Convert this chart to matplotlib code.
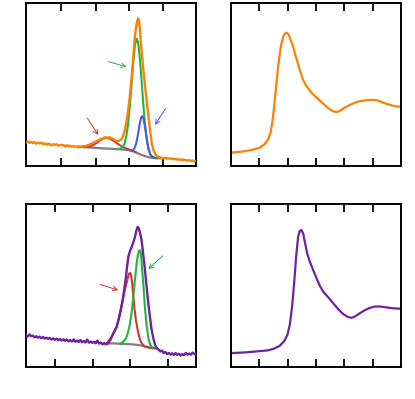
import matplotlib
matplotlib.use("Agg")
import matplotlib.pyplot as plt

# ---------------- data: top-left (orange spectrum with fit components) ----------------
tl_data_x = [0, 1, 2, 3, 4, 5, 6, 7, 8, 9, 10, 11, 12, 13, 14, 15, 16, 17, 18, 19, 20, 21, 22, 23, 24, 25, 26, 27,
             28, 29, 30, 31, 32, 33, 34, 35, 36, 37, 38, 39, 40, 41, 42, 43, 44, 45, 46, 47, 48, 49, 50, 51, 52, 53,
             54, 55, 56, 57, 58, 59, 60, 61, 62, 63, 64, 64.5, 65, 65.5, 66, 66.5, 67, 67.5, 68, 69, 70, 71, 72, 73,
             74, 75, 76, 77, 78, 79, 80, 81, 82, 83, 84, 85, 86, 87, 88, 89, 90, 91, 92, 93, 94, 95, 96, 97, 98, 99, 100]
tl_data_y = [14.4, 15.0, 14.2, 14.9, 14.1, 14.6, 13.7, 14.3, 13.8, 14.4, 13.5, 13.9, 13.1, 13.7, 13.4, 12.7, 13.4,
             13.0, 13.3, 12.4, 13.0, 12.7, 12.9, 12.1, 12.7, 12.2, 12.5, 11.7, 12.3, 11.8, 12.0, 11.4, 11.9, 12.0,
             12.3, 12.1, 12.7, 12.9, 13.6, 13.8, 14.6, 14.9, 15.6, 15.9, 16.7, 16.8, 17.5, 17.6, 17.3, 17.7, 17.0,
             16.8, 16.0, 15.6, 15.2, 15.6, 16.4, 18.0, 21.5, 26.5, 33.3, 42.0, 52.5, 65.2, 78.5, 83.0, 86.8, 89.3,
             90.5, 89.3, 84.0, 77.0, 70.7, 59.4, 49.2, 40.0, 30.8, 21.9, 13.8, 9.6, 7.4, 6.1, 5.5, 5.2, 5.0, 4.6,
             5.1, 4.5, 4.8, 4.2, 4.7, 4.0, 4.4, 3.9, 4.2, 3.6, 4.1, 3.5, 3.8, 3.3, 3.6, 3.1, 3.4, 2.9, 3.2]

tl_base_x = [31, 32, 35, 38, 41, 44, 47, 50, 53, 56, 58, 60, 62, 64, 66, 68, 70, 72, 74, 77, 81]
tl_base_y = [11.8, 11.7, 11.5, 11.3, 11.1, 10.9, 10.7, 10.6, 10.4, 10.2, 10.0, 9.8, 9.3, 8.6, 7.7, 6.8, 6.0, 5.4,
             5.0, 4.8, 4.7]

tl_red_x = [31, 33, 35, 37, 39, 41, 43, 45, 47, 49, 51, 53, 55, 57, 59, 61, 63, 64.5]
tl_red_y = [11.8, 11.7, 11.7, 12.0, 12.6, 13.7, 15.2, 16.6, 17.3, 16.9, 15.7, 14.3, 12.9, 11.7, 10.8, 10.0, 9.2, 8.5]

tl_green_x = [53, 55, 56, 57, 58, 59, 60, 61, 62, 63, 64, 64.6, 65.2, 65.8, 66, 67, 68, 69, 70, 71, 72, 73, 74,
              75, 77]
tl_green_y = [10.4, 10.5, 10.8, 11.8, 13.9, 18.2, 25.4, 35.9, 48.9, 62.5, 73.2, 76.9, 78.1, 76.4, 75.3, 65.8, 52.1,
              37.8, 25.5, 16.5, 10.7, 7.5, 6.0, 5.3, 4.8]

tl_blue_x = [62, 63, 64, 65, 66, 67, 67.7, 68.4, 69.1, 70, 71, 72, 73, 74, 75, 76]
tl_blue_y = [9.5, 9.8, 11.3, 14.6, 20.2, 26.5, 29.6, 30.6, 29.1, 24.0, 16.9, 10.8, 7.3, 5.7, 5.1, 4.9]

# ---------------- data: bottom-left (purple spectrum with fit components) ----------------
bl_data_x = [0, 1, 2, 3, 4, 5, 6, 7, 8, 9, 10, 11, 12, 13, 14, 15, 16, 17, 18, 19, 20, 21, 22, 23, 24, 25, 26, 27,
             28, 29, 30, 31, 32, 33, 34, 35, 36, 37, 38, 39, 40, 41, 42, 43, 44, 45, 46, 47, 48.4, 49.5, 50.4, 51.8,
             53.3, 54.3, 55.3, 56.3, 57.2, 58.0, 58.8, 59.5, 60.2, 61.2, 62.2, 63.2, 64.1, 64.9, 65.7, 66.3, 66.9,
             67.5, 68.0, 68.9, 69.8, 70.8, 71.8, 72.8, 73.7, 74.8, 75.9, 76.9, 78, 79, 80, 81, 82, 83, 84, 85, 86,
             87, 88, 89, 90, 91, 92, 93, 94, 95, 96, 97, 98, 99, 100]
bl_data_y = [19.8, 18.6, 19.9, 18.9, 19.2, 18.1, 18.8, 17.9, 18.6, 17.6, 18.3, 17.4, 17.9, 17.2, 17.8, 16.8, 17.5,
             16.6, 17.3, 16.4, 17.1, 16.2, 16.9, 16.0, 16.8, 15.7, 16.5, 15.6, 16.9, 15.4, 16.2, 15.3, 16.5, 15.1,
             15.9, 15.0, 16.8, 14.9, 15.6, 14.8, 15.4, 14.5, 16.2, 14.3, 15.0, 13.9, 14.6, 13.8, 14.5, 16.3, 18.5,
             21.5, 24.6, 28.3, 32.8, 37.8, 42.9, 49.0, 55.2, 61.5, 67.4, 71.0, 73.5, 76.5, 79.6, 83.3, 85.7, 85.0,
             82.8, 80.0, 77.5, 69.5, 61.0, 50.5, 40.4, 31.5, 24.0, 18.0, 13.6, 11.5, 10.6, 9.5, 10.1, 8.6, 9.2, 7.9,
             8.6, 7.6, 8.4, 7.3, 8.5, 7.4, 8.1, 7.0, 7.9, 7.2, 8.6, 7.5, 8.2, 7.6, 8.8, 7.9, 8.3]

bl_base_x = [47.5, 52, 56, 60, 63, 65, 67, 69, 71, 73, 75, 77]
bl_base_y = [14.5, 14.4, 14.2, 14.0, 13.8, 13.6, 13.3, 12.8, 12.2, 11.7, 11.4, 11.3]

bl_red_x = [47.5, 50.4, 53.3, 55.3, 57.2, 58.2, 59.2, 60.0, 60.6, 61.2, 61.8, 62.4, 63.1, 63.8, 64.5, 65.1, 65.8,
            66.5, 67.1, 68.0, 69.0, 70.0, 72.0, 74.9]
bl_red_y = [14.5, 18.3, 24.4, 32.6, 42.7, 47.5, 51.5, 55.0, 57.0, 57.6, 56.2, 51.5, 43.5, 36.0, 30.0, 26.0, 22.0,
            18.8, 16.6, 14.6, 13.3, 12.6, 12.0, 11.5]

bl_green_x = [55.5, 56.3, 57.5, 58.5, 59.2, 60.2, 61.2, 62.2, 63.1, 64.1, 65.1, 65.8, 66.5, 67.1, 67.6, 68.1, 69.0,
              70.0, 71.0, 72.0, 73.0, 73.9, 75.0]
bl_green_y = [14.2, 14.8, 15.8, 17.0, 18.5, 22.0, 26.7, 34.0, 42.9, 53.5, 63.3, 68.5, 71.0, 71.5, 69.5, 62.5, 51.0,
              36.0, 25.0, 17.5, 13.8, 12.4, 11.7]

# ---------------- data: right panels ----------------
tr_x = [0, 0.365, 0.719, 1.014, 1.191, 1.309, 1.403, 1.485, 1.568, 1.662, 1.756, 1.839, 1.886, 1.945, 1.992, 2.04,
        2.075, 2.193, 2.310, 2.428, 2.546, 2.664, 2.841, 3.018, 3.194, 3.430, 3.607, 3.725, 3.843, 4.020, 4.255,
        4.491, 4.727, 4.963, 5.140, 5.317, 5.552, 5.788, 6.0]
tr_y = [8.2, 8.8, 9.8, 11.2, 13.5, 16.3, 21.0, 30.2, 44.5, 60.8, 73.1, 79.2, 80.9, 81.7, 81.4, 80.3, 78.8, 73.1,
        65.9, 58.8, 52.7, 49.0, 44.9, 42.0, 39.2, 35.5, 33.5, 33.1, 33.9, 35.9, 38.0, 39.6, 40.2, 40.6, 40.4, 39.2,
        37.8, 36.7, 36.3]

br_x = [0, 0.483, 0.955, 1.309, 1.544, 1.721, 1.874, 1.992, 2.075, 2.157, 2.228, 2.299, 2.369, 2.428, 2.487, 2.546,
        2.605, 2.688, 2.782, 2.900, 3.018, 3.136, 3.254, 3.430, 3.607, 3.784, 3.961, 4.138, 4.256, 4.373, 4.550,
        4.727, 4.904, 5.081, 5.258, 5.434, 5.670, 6.0]
br_y = [8.5, 8.9, 9.6, 10.2, 11.4, 13.0, 15.7, 19.7, 25.8, 37.0, 51.2, 67.5, 79.7, 83.3, 83.7, 81.7, 76.6, 69.5,
        64.4, 59.3, 54.3, 49.6, 46.1, 42.7, 39.0, 35.4, 32.3, 30.5, 30.1, 30.9, 32.9, 34.8, 36.2, 37.0, 37.0, 36.6,
        36.0, 35.6]

tl_ticks = [20.6, 41.0, 60.6, 80.6]
bl_ticks = [17.1, 39.2, 61.2, 83.3]
r_ticks = [1, 2, 3, 4, 5]

# ---------------- style ----------------
ORANGE = "#ff8000"
PURPLE = "#7020a0"
GRAY = "#808080"
RED = "#d03535"
GREEN = "#1fb540"
BLUE = "#4a5ae0"

fig = plt.figure(figsize=(4.15, 3.99), dpi=100)
W, H = 415.0, 399.0


def make_ax(x0, y0, x1, y1):
    return fig.add_axes([x0 / W, 1 - y1 / H, (x1 - x0) / W, (y1 - y0) / H])


ax_tl = make_ax(26, 3, 196, 166)
ax_bl = make_ax(26, 203.5, 196, 367)
ax_tr = make_ax(231, 3, 401, 166)
ax_br = make_ax(231, 203.5, 401, 367)


def style(ax, xlim, ticks):
    ax.set_xlim(*xlim)
    ax.set_ylim(0, 100)
    ax.set_xticks(ticks)
    ax.set_yticks([])
    ax.tick_params(axis="x", direction="in", top=True, bottom=True, labelbottom=False,
                   length=5.5, width=1.3, color="black")
    for s in ax.spines.values():
        s.set_linewidth(1.4)
        s.set_color("black")


style(ax_tl, (0, 100), tl_ticks)
style(ax_bl, (0, 100), bl_ticks)
style(ax_tr, (0, 6), r_ticks)
style(ax_br, (0, 6), r_ticks)

# top-left
ax_tl.plot(tl_base_x, tl_base_y, color=GRAY, lw=1.6, zorder=2)
ax_tl.plot(tl_red_x, tl_red_y, color=RED, lw=1.4, zorder=3)
ax_tl.plot(tl_green_x, tl_green_y, color=GREEN, lw=1.5, zorder=3)
ax_tl.plot(tl_blue_x, tl_blue_y, color=BLUE, lw=1.5, zorder=3)
ax_tl.plot(tl_data_x, tl_data_y, color=ORANGE, lw=1.7, zorder=4)

arrow_kw = dict(arrowstyle="->", lw=0.7, mutation_scale=8, shrinkA=0, shrinkB=0)
ax_tl.annotate("", xy=(0.425, 0.190), xytext=(0.361, 0.293), xycoords="axes fraction",
               arrowprops=dict(color=RED, **arrow_kw))
ax_tl.annotate("", xy=(0.592, 0.609), xytext=(0.484, 0.640), xycoords="axes fraction",
               arrowprops=dict(color=GREEN, **arrow_kw))
ax_tl.annotate("", xy=(0.759, 0.252), xytext=(0.822, 0.354), xycoords="axes fraction",
               arrowprops=dict(color=BLUE, **arrow_kw))

# bottom-left
ax_bl.plot(bl_base_x, bl_base_y, color=GRAY, lw=1.6, zorder=2)
ax_bl.plot(bl_red_x, bl_red_y, color=RED, lw=1.5, zorder=3)
ax_bl.plot(bl_green_x, bl_green_y, color=GREEN, lw=1.5, zorder=3)
ax_bl.plot(bl_data_x, bl_data_y, color=PURPLE, lw=1.7, zorder=4)
ax_bl.annotate("", xy=(0.543, 0.470), xytext=(0.435, 0.505), xycoords="axes fraction",
               arrowprops=dict(color=RED, **arrow_kw))
ax_bl.annotate("", xy=(0.719, 0.598), xytext=(0.804, 0.680), xycoords="axes fraction",
               arrowprops=dict(color=GREEN, **arrow_kw))

# right panels
ax_tr.plot(tr_x, tr_y, color=ORANGE, lw=1.6)
ax_br.plot(br_x, br_y, color=PURPLE, lw=1.6)

fig.savefig("out.png", dpi=100)
